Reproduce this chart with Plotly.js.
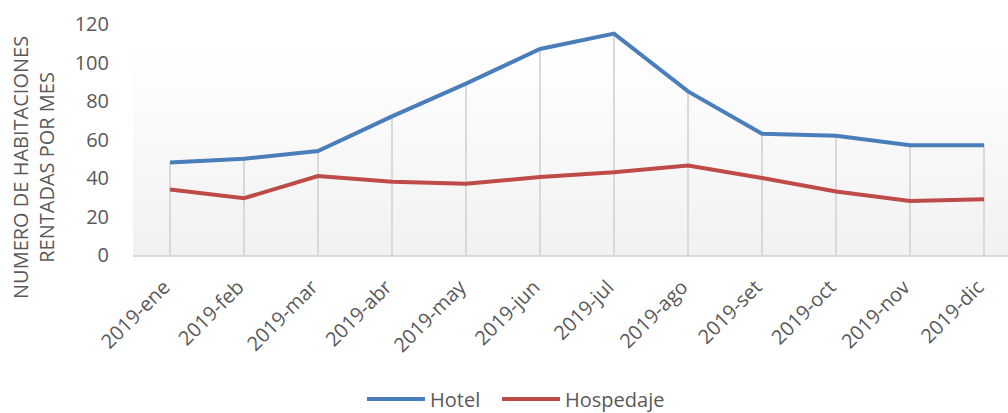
<!DOCTYPE html>
<html>
<head>
<meta charset="utf-8">
<script src="https://cdn.plot.ly/plotly-3.0.1.min.js"></script>
<style>html,body{margin:0;padding:0;background:#fff;}#chart{width:1008px;height:413px;}</style>
</head>
<body>
<div id="chart"></div>
<script>
const months = ["2019-ene","2019-feb","2019-mar","2019-abr","2019-may","2019-jun","2019-jul","2019-ago","2019-set","2019-oct","2019-nov","2019-dic"];
const hotel = [48, 50, 54, 72, 89, 107, 115, 85, 63, 62, 57, 57];
const hospedaje = [34, 29.5, 41, 38, 37, 40.5, 43, 46.5, 40, 33, 28, 29];
const yTicks = [0, 20, 40, 60, 80, 100, 120];

const FONT = "Open Sans, Liberation Sans, sans-serif";
const TXT = "#595959";

const svg = "<svg xmlns='http://www.w3.org/2000/svg' width='100' height='100' preserveAspectRatio='none'><defs><linearGradient id='g' x1='0' y1='0' x2='0' y2='1'><stop offset='0' stop-color='#ffffff'/><stop offset='0.15' stop-color='#fefefe'/><stop offset='1' stop-color='#f1f1f1'/></linearGradient></defs><rect width='100' height='100' fill='url(#g)'/></svg>";
const bg = "data:image/svg+xml;charset=utf-8," + encodeURIComponent(svg);

const dropLines = months.map((m, i) => ({
  type: "line", xref: "x", yref: "y", layer: "below",
  x0: m, x1: m, y0: 0, y1: Math.max(hotel[i], hospedaje[i]),
  line: {color: "#d9d9d9", width: 2}
}));

const traces = [
  {x: months, y: hotel, name: "Hotel", type: "scatter", mode: "lines", legend: "legend",
   line: {color: "#4a7ebb", width: 4}},
  {x: months, y: hospedaje, name: "Hospedaje", type: "scatter", mode: "lines", legend: "legend2",
   line: {color: "#be4b48", width: 4}}
];

const legendBase = {orientation: "h", xref: "container", yref: "container",
  xanchor: "left", y: 14/413, yanchor: "middle", itemwidth: 58,
  font: {family: FONT, size: 20, color: TXT}, bgcolor: "rgba(0,0,0,0)"};

const layout = {
  width: 1008, height: 413,
  margin: {l: 133, r: 0, t: 24, b: 158, autoexpand: false},
  paper_bgcolor: "#ffffff",
  plot_bgcolor: "rgba(0,0,0,0)",
  font: {family: FONT, size: 20, color: TXT},
  showlegend: true,
  legend: Object.assign({}, legendBase, {x: 362/1008}),
  legend2: Object.assign({}, legendBase, {x: 497/1008}),
  xaxis: {type: "category", range: [-0.5, 11.324], showgrid: false, zeroline: false,
          showline: true, linecolor: "#d9d9d9", linewidth: 1.5,
          tickangle: -45, ticks: "outside", ticklen: 11, tickcolor: "rgba(0,0,0,0)",
          ticklabelshift: -6,
          tickfont: {family: FONT, size: 20, color: TXT}, automargin: false},
  yaxis: {range: [0, 120], tickvals: yTicks, ticktext: yTicks.map(String),
          showgrid: false, zeroline: false, showline: false,
          ticks: "outside", ticklen: 19, tickcolor: "rgba(0,0,0,0)",
          tickfont: {family: FONT, size: 20, color: TXT}, automargin: false},
  images: [{source: bg, xref: "paper", yref: "paper", x: 0, y: 1, sizex: 1, sizey: 1,
            xanchor: "left", yanchor: "top", sizing: "stretch", layer: "below"}],
  shapes: dropLines,
  annotations: [{text: "NUMERO DE HABITACIONES<br>RENTADAS POR MES", textangle: -90,
                 xref: "paper", yref: "paper", x: (33 - 133) / 875, y: (255 - 168) / 231,
                 xanchor: "center", yanchor: "middle", showarrow: false,
                 font: {family: FONT, size: 20, color: TXT}}]
};

Plotly.newPlot("chart", traces, layout, {staticPlot: true, displayModeBar: false});
</script>
</body>
</html>
